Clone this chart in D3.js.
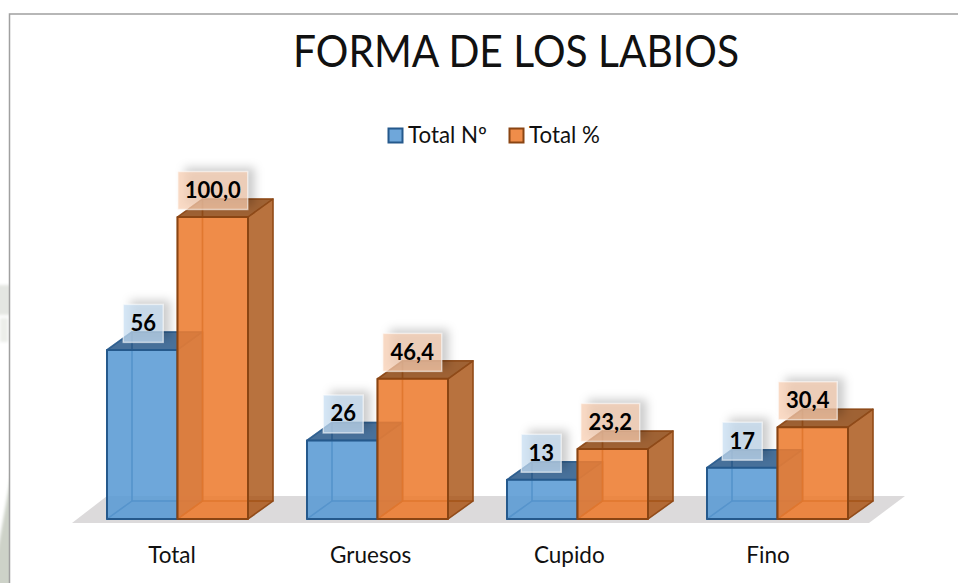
<!DOCTYPE html>
<html><head><meta charset="utf-8">
<script src="https://cdn.jsdelivr.net/npm/d3@7"></script>
<style>html,body{margin:0;padding:0;background:#fff}svg{display:block}text{font-family:Lato,"Open Sans",sans-serif;fill:#111}</style>
</head><body><svg id="c" width="958" height="583"></svg>
<script>
const categories = ["Total","Gruesos","Cupido","Fino"];
const seriesNames = ["Total Nº","Total %"];
const totalNo = [56,26,13,17];
const totalPct = [100.0,46.4,23.2,30.4];
const seriesValues = [totalNo,totalPct];
const labelFormats = [d=>String(d), d=>d.toFixed(1).replace(".",",")];
const colors = [
 {front:"#5b9bd5",side:"#3f74a8",top:"#2c5b8a",back:"#5b9bd5",line:"#25598c",box:"#b5d3ef"},
 {front:"#ed7d31",side:"#a85618",top:"#8f4a16",back:"#d9701f",line:"#8a4513",box:"#f6bd98"}];
const labelShift = [[1,1,-1,0],[0,-0.5,-2.5,-5]];

const svg = d3.select("#c");
const depthX = 25, depthY = -18;
const y = d3.scaleLinear().domain([0,100]).range([519,217]);
const xGroup = d3.scaleBand().domain(categories).range([72,872]);
const xBar = d3.scaleBand().domain(d3.range(seriesNames.length)).range([35,176]);
const xLabel = d3.scalePoint().domain(categories).range([171.5,767.5]);
const line = d3.line();
const defs = svg.append("defs");
defs.append("filter").attr("id","sh").attr("x","-40%").attr("y","-40%").attr("width","200%").attr("height","200%")
  .append("feGaussianBlur").attr("stdDeviation",5);
defs.append("filter").attr("id","wm").append("feGaussianBlur").attr("stdDeviation",1.5);

// faint watermark left of the frame
const wm = svg.append("g").attr("filter","url(#wm)");
wm.append("path").attr("d",line([[-4,560],[12,470],[12,590],[-4,590]])).attr("fill","#cdd2c8");
wm.append("rect").attr("x",-4).attr("y",285).attr("width",16).attr("height",30).attr("fill","#e4e6e2");
wm.append("rect").attr("x",0).attr("y",318).attr("width",8).attr("height",24).attr("fill","#eceeea");
svg.append("rect").attr("x",10).attr("y",14).attr("width",948).attr("height",569).attr("fill","#fff");

// frame
svg.append("path").attr("d",line([[9.5,583],[9.5,14],[958,14]])).attr("fill","none").attr("stroke","#a0a0a0").attr("stroke-width",1.5);

// title
svg.append("text").attr("x",293).attr("y",67).attr("font-size",45)
  .attr("textLength",446).attr("lengthAdjust","spacingAndGlyphs").text("FORMA DE LOS LABIOS");

// legend
const legendX = [388,509];
seriesNames.forEach((n,i)=>{
  svg.append("rect").attr("x",legendX[i]+.5).attr("y",128.5).attr("width",14).attr("height",14)
    .attr("fill",colors[i].front).attr("fill-opacity",.88).attr("stroke",colors[i].line).attr("stroke-width",2);
  svg.append("text").attr("x",legendX[i]+20).attr("y",142.5).attr("font-size",22.3).text(n);
});

// floor
const fl = y(0);
svg.append("path").attr("d",line([[72,fl+4],[107,fl-23],[905,fl-23],[869,fl+4]])+"Z").attr("fill","#dcdadb");

// bars
const bars = [];
seriesValues.forEach((vals,s)=>vals.forEach((v,c)=>bars.push({s,c,v})));
const barW = xBar.bandwidth();
const g = svg.append("g");
bars.forEach(b=>{
  const col = colors[b.s];
  const x0 = xGroup(categories[b.c])+xBar(b.s), x1 = x0+barW, t = y(b.v), f = y(0);
  const q = (pts,fill,op)=>g.append("path").attr("d",line(pts)+"Z").attr("fill",fill).attr("fill-opacity",op)
     .attr("stroke",col.line).attr("stroke-opacity",.7).attr("stroke-width",1.5).attr("stroke-linejoin","round");
  const dx=depthX, dy=depthY;
  q([[x0+dx,f+dy],[x1+dx,f+dy],[x1+dx,t+dy],[x0+dx,t+dy]],col.back,.1);
  q([[x0,f],[x0+dx,f+dy],[x0+dx,t+dy],[x0,t]],col.side,.12);
  q([[x0,f],[x1,f],[x1+dx,f+dy],[x0+dx,f+dy]],col.front,.25);
  q([[x1,f],[x1+dx,f+dy],[x1+dx,t+dy],[x1,t]],col.side,.82);
  q([[x0,t],[x1,t],[x1+dx,t+dy],[x0+dx,t+dy]],col.top,.86);
  q([[x0,f],[x1,f],[x1,t],[x0,t]],col.front,.87)
    .attr("stroke-opacity",1).attr("stroke-width",2);
});

// data labels
bars.forEach(b=>{
  const col = colors[b.s];
  const cx = xGroup(categories[b.c])+xBar(b.s)+barW/2+labelShift[b.s][b.c], cy = y(b.v)-26.5;
  const w = b.s===0?40:59+(b.v===100?11:0), h = 38;
  svg.append("rect").attr("x",cx-w/2+7).attr("y",cy-h/2-4).attr("width",w).attr("height",h)
    .attr("fill","#000").attr("fill-opacity",.2).attr("filter","url(#sh)");
  svg.append("rect").attr("x",cx-w/2).attr("y",cy-h/2).attr("width",w).attr("height",h)
    .attr("fill","#fff").attr("fill-opacity",.4);
  svg.append("rect").attr("x",cx-w/2).attr("y",cy-h/2).attr("width",w).attr("height",h)
    .attr("fill",col.box).attr("fill-opacity",.55).attr("stroke","#fff").attr("stroke-opacity",.55).attr("stroke-width",1.5);
  svg.append("text").attr("x",cx).attr("y",cy+7.5).attr("text-anchor","middle").attr("font-size",22).attr("font-weight",700)
    .style("fill","#000").text(labelFormats[b.s](b.v));
});

// category axis
const axis = d3.axisBottom(xLabel).tickSize(0).tickPadding(0);
const ax = svg.append("g").attr("transform","translate(0,545)").call(axis);
ax.select(".domain").remove();
ax.selectAll("text").attr("font-size",22.5).attr("font-family",null).attr("fill",null).attr("dy",null).attr("y",18);
ax.attr("font-family",null).attr("font-size",null);
</script></body></html>
